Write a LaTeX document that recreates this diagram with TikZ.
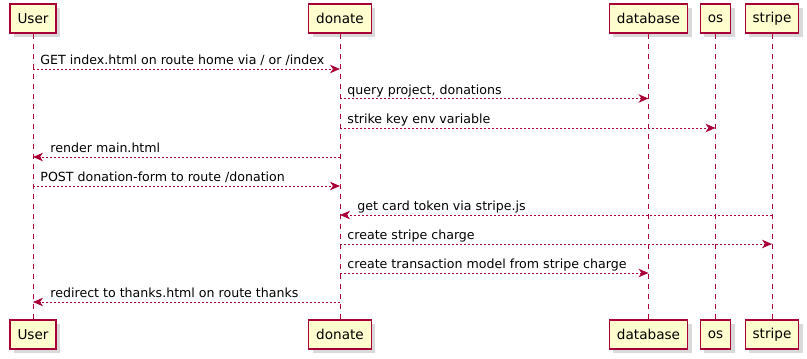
\documentclass[tikz,border=0pt]{standalone}
\usepackage{fontspec}
\setmainfont{DejaVu Sans}
\usetikzlibrary{arrows.meta, shadows}
\definecolor{umlred}{HTML}{A80036}
\definecolor{umlcream}{HTML}{FEFECE}

\begin{document}
\begin{tikzpicture}[x=1pt, y=-1pt, >={Stealth[length=10pt, width=8.5pt, inset=3pt]},
  actor/.style={draw=umlred, fill=umlcream, line width=1.2pt, inner xsep=7.5pt,
    minimum height=29pt, font=\fontsize{13.6}{16}\selectfont,
    drop shadow={shadow xshift=4pt, shadow yshift=-4pt, opacity=0.25, fill=black!60}},
  life/.style={umlred, line width=0.9pt, dash pattern=on 5pt off 5pt},
  msg/.style={->, umlred, line width=0.9pt, dash pattern=on 2pt off 2pt},
  lbl/.style={anchor=base west, text=black, inner sep=0pt, yshift=4.5pt,
    font=\fontsize{12.6}{15}\selectfont}]
  \useasboundingbox (0,0) rectangle (807,359);
  % participants, top and bottom
  \foreach \p/\x/\t in {user/33/User, donate/340/donate, db/648.5/database, os/715.5/os, stripe/772/stripe} {
    \node[actor] (\p T) at (\x,18.5) {\t};
    \node[actor] (\p B) at (\x,334.5) {\t};
    \draw[life] (\p T) -- (\p B);
  }
  % message rows
  \foreach \i/\y in {1/69, 2/98.5, 3/128, 4/157, 5/186, 6/215, 7/244, 8/273, 9/302}
    \coordinate (r\i) at (0,\y);
  \draw[msg] (userT |- r1) -- (donateT |- r1) node[lbl, at start, xshift=7pt] {GET index.html on route home via / or /index};
  \draw[msg] (donateT |- r2) -- (dbT |- r2) node[lbl, at start, xshift=7pt] {query project, donations};
  \draw[msg] (donateT |- r3) -- (osT |- r3) node[lbl, at start, xshift=7pt] {strike key env variable};
  \draw[msg] (donateT |- r4) -- (userT |- r4) node[lbl, at end, xshift=17pt] {render main.html};
  \draw[msg] (userT |- r5) -- (donateT |- r5) node[lbl, at start, xshift=7pt] {POST donation-form to route /donation};
  \draw[msg] (stripeT |- r6) -- (donateT |- r6) node[lbl, at end, xshift=17pt] {get card token via stripe.js};
  \draw[msg] (donateT |- r7) -- (stripeT |- r7) node[lbl, at start, xshift=7pt] {create stripe charge};
  \draw[msg] (donateT |- r8) -- (dbT |- r8) node[lbl, at start, xshift=7pt] {create transaction model from stripe charge};
  \draw[msg] (donateT |- r9) -- (userT |- r9) node[lbl, at end, xshift=17pt] {redirect to thanks.html on route thanks};
\end{tikzpicture}
\end{document}
